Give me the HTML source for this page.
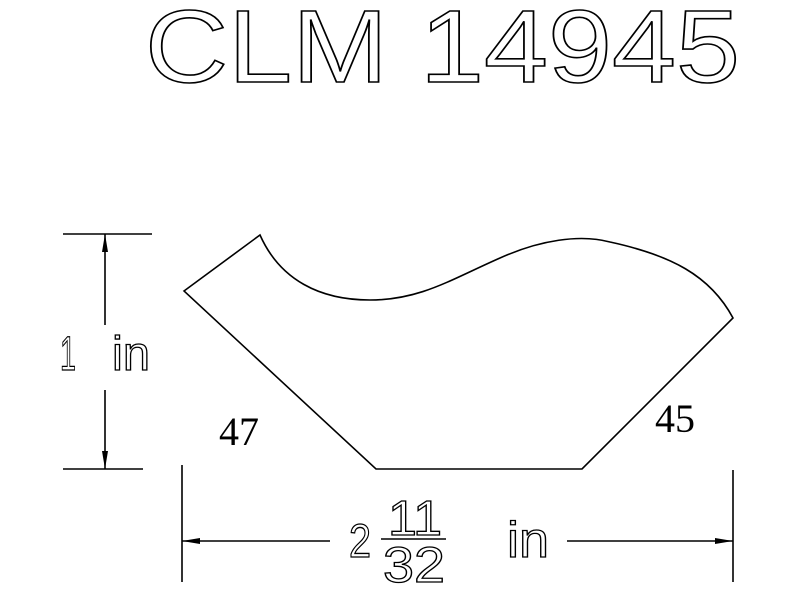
<!DOCTYPE html>
<html><head><style>html,body{margin:0;padding:0;background:#fff}</style></head>
<body>
<svg width="800" height="600" viewBox="0 0 800 600" xmlns="http://www.w3.org/2000/svg">
<rect width="800" height="600" fill="#fff"/>
<text x="145" y="82" font-family="Liberation Sans, sans-serif" font-size="103" fill="none" stroke="#000" stroke-width="1.6" textLength="595" lengthAdjust="spacingAndGlyphs">CLM 14945</text>
<g fill="none" stroke="#000" stroke-width="1.6">
<path d="M184,291 L260,235 C280,280 320,300 370,300 C420,300 450,280 500,258 C540,240 580,234 610,242 C670,255 710,275 733,318 L582,469 L376,469 Z"/>
<line x1="63" y1="234" x2="152" y2="234"/>
<line x1="63" y1="469" x2="143" y2="469"/>
<line x1="105" y1="234" x2="105" y2="325"/>
<line x1="105" y1="390" x2="105" y2="469"/>
<line x1="182" y1="465" x2="182" y2="582"/>
<line x1="733" y1="470" x2="733" y2="582"/>
<line x1="182" y1="541" x2="330" y2="541"/>
<line x1="567" y1="541" x2="733" y2="541"/>
<line x1="381" y1="539" x2="446" y2="539"/>
</g>
<g fill="#000">
<polygon points="105,234 102,252 108,252"/>
<polygon points="105,469 102,451 108,451"/>
<polygon points="182,541 200,538 200,544"/>
<polygon points="733,541 715,538 715,544"/>
</g>
<g font-family="Liberation Sans, sans-serif" fill="none" stroke="#000" stroke-width="1.3">
<text x="60" y="370" font-size="48" textLength="16" lengthAdjust="spacingAndGlyphs">1</text>
<text x="112" y="370" font-size="48" textLength="38" lengthAdjust="spacingAndGlyphs">in</text>
<text x="349" y="557" font-size="47" textLength="22" lengthAdjust="spacingAndGlyphs">2</text>
<text x="388" y="535" font-size="49" textLength="54" lengthAdjust="spacingAndGlyphs">11</text>
<text x="383" y="582" font-size="50" textLength="62" lengthAdjust="spacingAndGlyphs">32</text>
<text x="507" y="557" font-size="50" textLength="42" lengthAdjust="spacingAndGlyphs">in</text>
</g>
<text x="219" y="445" font-family="Liberation Serif, serif" font-size="40">47</text>
<text x="655" y="432" font-family="Liberation Serif, serif" font-size="40">45</text>
</svg>
</body></html>
